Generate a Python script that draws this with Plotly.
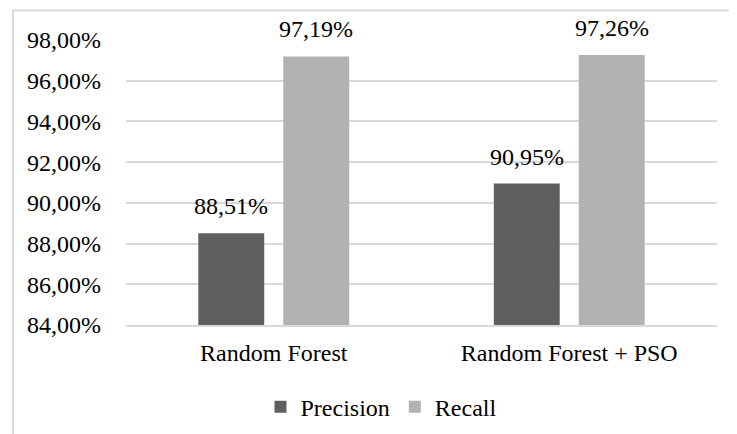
import plotly.graph_objects as go

categories = ["Random Forest", "Random Forest + PSO"]
precision = [0.8851, 0.9095]
recall = [0.9719, 0.9726]
series_names = ["Precision", "Recall"]
tick_vals = [0.84, 0.86, 0.88, 0.90, 0.92, 0.94, 0.96, 0.98]

FONT = "Liberation Serif"
FS = 24
DARK = "#5f5f5f"
LIGHT = "#b2b2b2"
GRID = "#d9d9d9"

fig = go.Figure()
fig.add_trace(go.Bar(x=categories, y=precision, name=series_names[0],
                     marker=dict(color=DARK, line=dict(width=0))))
fig.add_trace(go.Bar(x=categories, y=recall, name=series_names[1],
                     marker=dict(color=LIGHT, line=dict(width=0))))

annotations = []
for vals, xs in ((precision, -42.5), (recall, 42.5)):
    for c, v in zip(categories, vals):
        annotations.append(dict(
            x=c, y=v, xref="x", yref="y", text=f"{v*100:.2f}%".replace(".", ","),
            showarrow=False, xshift=xs, yanchor="bottom", yshift=12,
            font=dict(family=FONT, size=FS, color="black")))

# page body has an 8px margin, so figure coordinates are shifted by -8
fig.update_layout(
    width=737, height=434,
    margin=dict(l=118, r=28, t=32, b=117, autoexpand=False),
    paper_bgcolor="white", plot_bgcolor="white",
    separators=", ",
    barmode="group", bargap=0.425, bargroupgap=0.224,
    font=dict(family=FONT, size=FS, color="black"),
    annotations=annotations,
    showlegend=True,
    legend=dict(orientation="h", x=0.4315, xanchor="center", y=-0.288,
                yanchor="middle", font=dict(family=FONT, size=FS, color="black"),
                itemwidth=30, traceorder="normal"),
    shapes=[dict(type="rect", xref="paper", yref="paper",
                 x0=-0.1912, x1=2.0, y0=-2.0, y1=1.1035,
                 line=dict(color=GRID, width=2), fillcolor="rgba(0,0,0,0)",
                 layer="below")],
)
fig.update_yaxes(range=[0.84, 0.98], tickvals=tick_vals, tickformat=".2%",
                 showgrid=True, gridcolor=GRID, gridwidth=1.5,
                 zeroline=False, showline=False, ticks="", automargin=False,
                 ticklabelstandoff=24, tickfont=dict(family=FONT, size=FS))
fig.update_xaxes(showline=True, linecolor=GRID, linewidth=1.5, ticks="",
                 showgrid=False, ticklabelstandoff=5, automargin=False,
                 tickfont=dict(family=FONT, size=FS))

fig.write_html("out.html")
